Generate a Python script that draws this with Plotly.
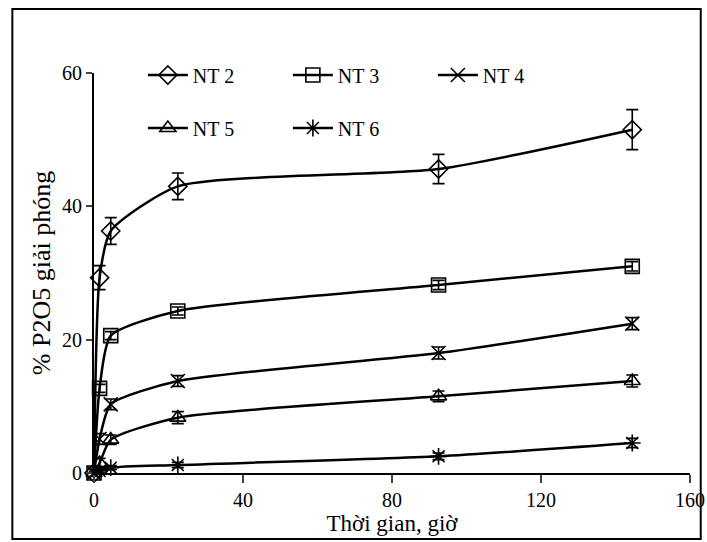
import plotly.graph_objects as go

times = [0, 1.5, 4.5, 22.5, 92.5, 144.5]
series_names = ["NT 2", "NT 3", "NT 4", "NT 5", "NT 6"]
nt2 = [0, 29.3, 36.3, 43.0, 45.6, 51.5]
nt3 = [0, 12.7, 20.6, 24.3, 28.2, 31.0]
nt4 = [0, 5.1, 10.3, 13.8, 18.0, 22.4]
nt5 = [0, 1.5, 5.0, 8.3, 11.5, 13.8]
nt6 = [0, 0.3, 0.8, 1.2, 2.5, 4.5]
err2 = [0, 1.8, 2.0, 2.0, 2.2, 3.0]
err3 = [0, 0.6, 0.6, 0.6, 0.7, 0.7]
err4 = [0, 0.8, 0.8, 0.8, 0.9, 0.9]
err5 = [0, 0.7, 0.7, 0.9, 0.8, 0.9]
err6 = [0, 0.3, 0.3, 0.4, 0.5, 0.7]
x_ticks = [0, 40, 80, 120, 160]
y_ticks = [0, 20, 40, 60]

values = [nt2, nt3, nt4, nt5, nt6]
errors = [err2, err3, err4, err5, err6]
symbols = ["diamond-open", "square-open", "x-thin-open", "triangle-up-open", "asterisk-open"]
legends = ["legend", "legend", "legend", "legend2", "legend2"]

FONT = "Liberation Serif, Times New Roman, serif"
fig = go.Figure()
for name, v, e, s, lg in zip(series_names, values, errors, symbols, legends):
    fig.add_trace(go.Scatter(
        x=times, y=v, name=name, mode="lines+markers",
        line=dict(color="black", width=2.5, shape="spline", smoothing=0.6),
        marker=dict(symbol=s, size=14, color="black", line=dict(color="black", width=1.6)),
        error_y=dict(type="data", array=e, visible=True, color="black", thickness=1.6, width=6),
        cliponaxis=False, legend=lg,
    ))

fig.update_layout(
    width=707, height=542,
    margin=dict(l=94, r=17, t=73, b=69),
    paper_bgcolor="white", plot_bgcolor="white",
    font=dict(family=FONT, size=19, color="black"),
    showlegend=True,
    legend=dict(orientation="h", x=0.082, y=0.995, xanchor="left", yanchor="middle",
                entrywidth=90, entrywidthmode="pixels", bgcolor="rgba(0,0,0,0)",
                font=dict(family=FONT, size=20), itemwidth=40),
    legend2=dict(orientation="h", x=0.082, y=0.8625, xanchor="left", yanchor="middle",
                 entrywidth=90, entrywidthmode="pixels", bgcolor="rgba(0,0,0,0)",
                 font=dict(family=FONT, size=20), itemwidth=40),
    xaxis=dict(range=[0, 160], tickvals=x_ticks, ticks="outside", ticklen=8, tickwidth=1.5,
               showline=True, linecolor="black", linewidth=2, showgrid=False, zeroline=False,
               automargin=False,
               title=dict(text="Thời gian, giờ", font=dict(family=FONT, size=23), standoff=4),
               tickfont=dict(family=FONT, size=20)),
    yaxis=dict(range=[0, 60], tickvals=y_ticks, ticks="outside", ticklen=6, tickwidth=1.5,
               showline=True, linecolor="black", linewidth=2, showgrid=False, zeroline=False,
               automargin=False,
               title=dict(text="% P2O5 giải phóng", font=dict(family=FONT, size=26), standoff=4),
               tickfont=dict(family=FONT, size=20)),
    shapes=[dict(type="rect", xref="paper", yref="paper",
                 x0=-0.137, x1=1.018, y0=-0.165, y1=1.16,
                 line=dict(color="black", width=2), fillcolor="rgba(0,0,0,0)")],
)

fig.write_html("out.html", config={"displayModeBar": False},
               post_script="document.body.style.margin='0';document.body.style.overflow='hidden';")
